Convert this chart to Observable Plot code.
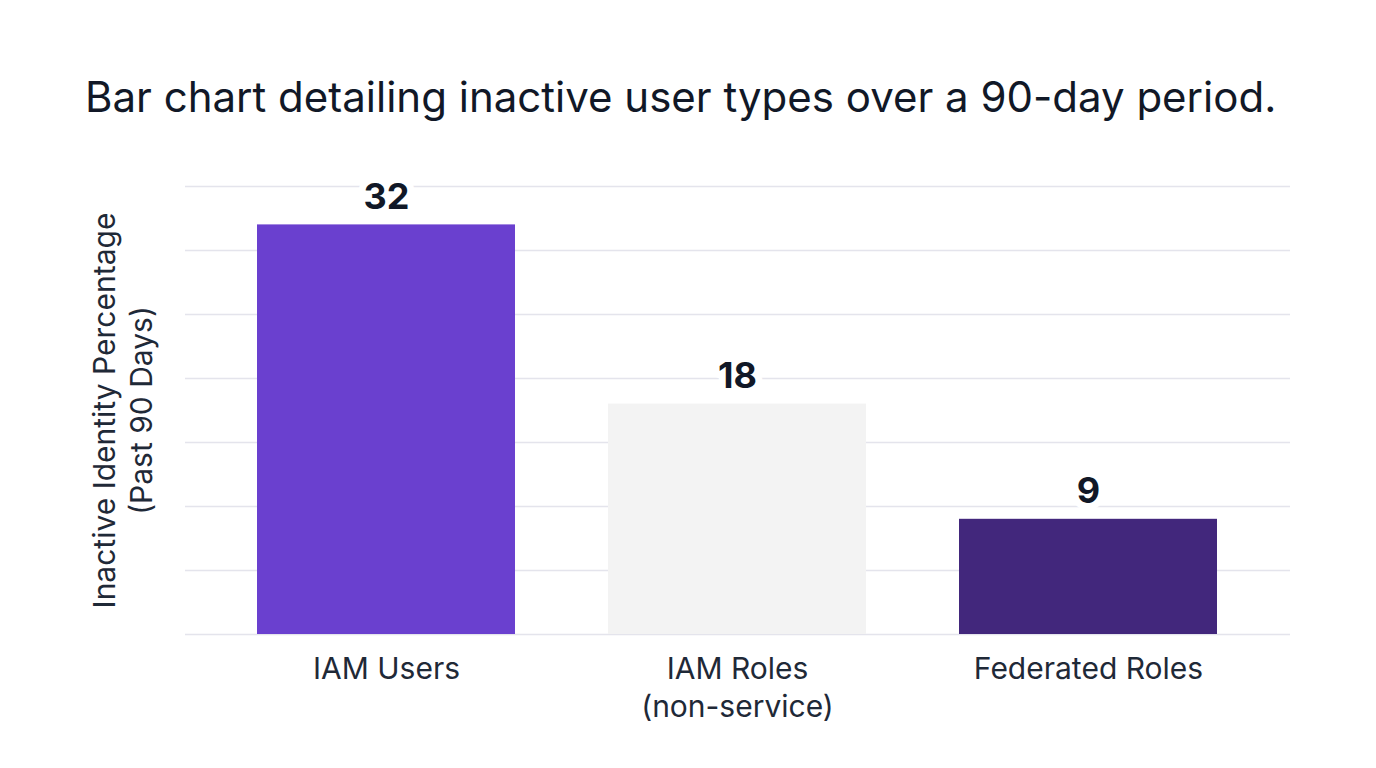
<!DOCTYPE html>
<html>
<head>
<meta charset="utf-8">
<script src="https://cdn.jsdelivr.net/npm/d3@7"></script>
<script src="https://cdn.jsdelivr.net/npm/@observablehq/plot@0.6"></script>
<style>
  html, body { margin: 0; padding: 0; background: #ffffff; }
  body { width: 1376px; height: 768px; overflow: hidden; font-family: Inter, "Noto Sans", sans-serif; }
  #title { position: absolute; left: 85px; top: 71px; font-size: 42px; font-weight: 400; color: #111827; white-space: nowrap; }
  #chart { position: absolute; left: 0; top: 150px; }
</style>
</head>
<body>
<div id="title">Bar chart detailing inactive user types over a 90-day period.</div>
<div id="chart"></div>
<script>
const categories = ["IAM Users", "IAM Roles\n(non-service)", "Federated Roles"];
const values = [32, 18, 9];
const barColors = ["#6a40cf", "#f3f3f3", "#42277c"];
const yTicks = [0, 5, 10, 15, 20, 25, 30, 35];
const yLabel = "Inactive Identity Percentage\n(Past 90 Days)";

const data = categories.map((c, i) => ({category: c, value: values[i], color: barColors[i]}));

const chart = Plot.plot({
  width: 1376,
  height: 600,
  marginLeft: 185,
  marginRight: 86,
  marginTop: 36,
  marginBottom: 116,
  style: {fontFamily: "Inter, 'Noto Sans', sans-serif", background: "#ffffff"},
  x: {domain: categories, paddingInner: 0.264, paddingOuter: 0.205, label: null},
  y: {domain: [0, 35], label: null, axis: null},
  marks: [
    Plot.ruleY(yTicks, {stroke: "#e4e4ec", strokeWidth: 1.5}),
    Plot.barY(data, {x: "category", y: "value", fill: "color"}),
    Plot.text(data, {
      x: "category", y: "value", text: d => String(d.value),
      lineAnchor: "bottom", dy: -16,
      fontSize: 36, fontWeight: 700, fill: "#111827",
      stroke: "#ffffff", strokeWidth: 14, paintOrder: "stroke"
    }),
    Plot.axisX({tickSize: 0, tickPadding: 18, fontSize: 30, fill: "#1f2937", lineHeight: 1.25, label: null}),
    Plot.text([yLabel], {
      frameAnchor: "left", rotate: -90, dx: -64,
      textAnchor: "middle", lineAnchor: "middle",
      fontSize: 30, fill: "#1f2937", lineHeight: 1.22
    })
  ]
});
document.getElementById("chart").appendChild(chart);
</script>
</body>
</html>
